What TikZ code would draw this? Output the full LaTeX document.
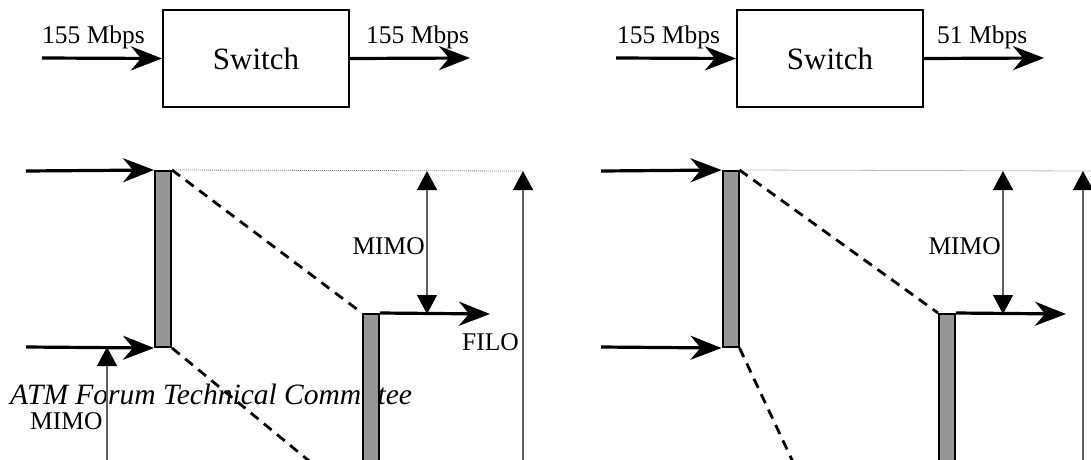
\documentclass[tikz,border=0pt]{standalone}
\usepackage{fontspec}
\setmainfont{Liberation Serif}
\usepackage{tikz}
\usetikzlibrary{arrows.meta, positioning, calc}
\definecolor{bargray}{RGB}{150,150,150}
\definecolor{dimgray}{RGB}{95,95,95}
\tikzstyle{switchbox} = [rectangle, draw=black, line width=2pt, minimum width=186pt, minimum height=97pt, inner sep=0pt, font=\fontsize{31}{36}\selectfont]
\tikzstyle{rate} = [anchor=base west, inner sep=0pt, font=\fontsize{25.5}{30}\selectfont]
\tikzstyle{flow} = [line width=3.2pt, -{Stealth[length=31pt,width=24pt,inset=10pt]}]
\tikzstyle{buffer} = [rectangle, draw=black, line width=2pt, fill=bargray, minimum width=16pt, inner sep=0pt]
\tikzstyle{delay} = [line width=2.8pt, dash pattern=on 10pt off 7pt]
\tikzstyle{level} = [draw=gray, line width=0.8pt, dash pattern=on 1pt off 1pt]
\tikzstyle{span} = [draw=dimgray, line width=1.5pt, -{Triangle[length=19pt,width=20pt,color=black]}]
\tikzstyle{twospan} = [draw=dimgray, line width=1.5pt, {Triangle[length=19pt,width=20pt,color=black]}-{Triangle[length=19pt,width=20pt,color=black]}]

\begin{document}
\begin{tikzpicture}[x=1pt, y=-1pt]
\useasboundingbox (0,0) rectangle (1091,459);
\clip (0,0) rectangle (1091,459);

\node[switchbox] (swleft) at (256,58.5) {Switch};
\coordinate (inleft) at (42,58);
\coordinate (outleft) at (470,58);
\draw[flow] (inleft) -- (swleft.west);
\draw[flow] (swleft.east) -- (outleft);
\node[rate] (rateinleft) at (42,43) {155 Mbps};
\node[rate] (rateoutleft) at (366,43) {155 Mbps};

\node[switchbox] (swright) at (830,58.5) {Switch};
\coordinate (inright) at (616,58);
\coordinate (outright) at (1044,58);
\draw[flow] (inright) -- (swright.west);
\draw[flow] (swright.east) -- (outright);
\node[rate] (rateinright) at (617,43) {155 Mbps};
\node[rate] (rateoutright) at (937,43) {51 Mbps};

\node[anchor=base west, inner sep=0pt, font=\fontsize{29.5}{34}\selectfont\itshape] (atm) at (10,404) {ATM Forum Technical Committee};

\node[buffer, minimum height=176pt] (bufa) at (163,259) {};
\node[buffer, minimum height=220pt] (bufb) at (371,424) {};
\coordinate (topa1) at (26,171);
\coordinate (topa2) at (26,347);
\coordinate (enda) at (490,314);
\coordinate (levela) at (523,171);
\coordinate (taila) at (325,474);
\draw[flow] (topa1) -- (bufa.north west);
\draw[flow] (topa2) -- (bufa.south west);
\draw[level] (bufa.north east) -- (levela);
\draw[delay] (bufa.north east) -- (bufb.north west);
\draw[delay] (bufa.south east) -- (taila);
\draw[flow] (bufb.north east) -- (enda);
\draw[twospan] (427,171) -- (427,314);
\node[rate, anchor=base east] (mimoa) at (425,254) {MIMO};
\node[rate] (filo) at (462,350) {FILO};
\draw[span] (523,470) -- (levela);
\draw[span] (107,470) -- (107,347);
\node[rate] (mimoc) at (30,429) {MIMO};

\node[buffer, minimum height=176pt] (bufc) at (730.5,259) {};
\node[buffer, minimum height=220pt] (bufd) at (947,424) {};
\coordinate (topc1) at (601,171);
\coordinate (topc2) at (601,347);
\coordinate (endc) at (1066,314);
\coordinate (levelc) at (1083,171);
\coordinate (tailc) at (793,462);
\draw[flow] (topc1) -- (bufc.north west);
\draw[flow] (topc2) -- (bufc.south west);
\draw[level] (bufc.north east) -- (1091,171);
\draw[delay] (bufc.north east) -- (bufd.north west);
\draw[delay] (bufc.south east) -- (tailc);
\draw[flow] (bufd.north east) -- (endc);
\draw[twospan] (1003,171) -- (1003,314);
\node[rate, anchor=base east] (mimob) at (1001,254) {MIMO};
\draw[span] (1083,470) -- (levelc);
\end{tikzpicture}
\end{document}
